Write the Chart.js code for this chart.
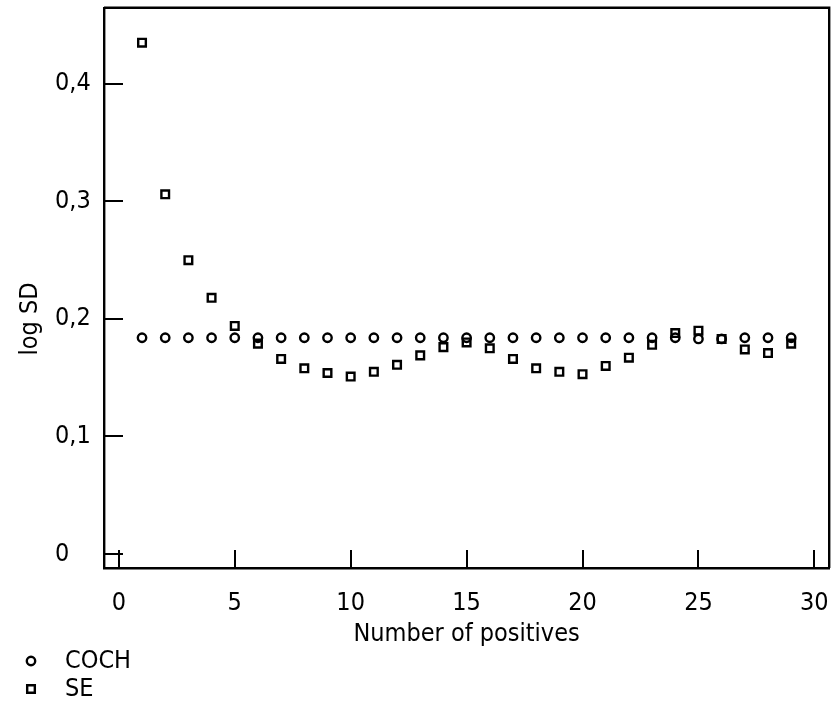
<!DOCTYPE html>
<html>
<head>
<meta charset="utf-8">
<script src="https://cdn.jsdelivr.net/npm/chart.js@4.4.1/dist/chart.umd.min.js"></script>
<style>
  html, body { margin: 0; padding: 0; background: #fff; }
  canvas { display: block; }
</style>
</head>
<body>
<canvas id="myChart" width="837" height="727"></canvas>
<script>
// number of positives
var positives = [1, 2, 3, 4, 5, 6, 7, 8, 9, 10, 11, 12, 13, 14, 15, 16, 17, 18, 19, 20, 21, 22, 23, 24, 25, 26, 27, 28, 29];
// log SD, COCH
var coch = [0.184, 0.184, 0.184, 0.184, 0.184, 0.184, 0.184, 0.184, 0.184, 0.184, 0.184, 0.184, 0.184, 0.184, 0.184,
  0.184, 0.184, 0.184, 0.184, 0.184, 0.184, 0.184, 0.184, 0.184, 0.183, 0.183, 0.184, 0.184, 0.184];
// log SD, SE
var se = [0.435, 0.306, 0.250, 0.218, 0.194, 0.179, 0.166, 0.158, 0.154, 0.151, 0.155, 0.161, 0.169, 0.176, 0.180,
  0.175, 0.166, 0.158, 0.155, 0.153, 0.160, 0.167, 0.178, 0.188, 0.190, 0.183, 0.174, 0.171, 0.179];
var xTicks = [0, 5, 10, 15, 20, 25, 30];
var yTicks = [0, 0.1, 0.2, 0.3, 0.4];

var FONT = "'DejaVu Sans Condensed', 'DejaVu Sans', sans-serif";
var FSIZE = 25;

function points(ys) {
  var out = [];
  for (var i = 0; i < positives.length; i++) {
    out.push({ x: positives[i], y: ys[i] });
  }
  return out;
}

function commaLabel(v) {
  if (Math.abs(v) < 1e-9) return "0";
  return v.toFixed(1).replace(".", ",");
}

// inward ticks, top/right frame, y title and the legend under the chart
const framePlugin = {
  id: "frame",
  afterDraw(chart) {
    const ctx = chart.ctx;
    const a = chart.chartArea;
    const xs = chart.scales.x;
    const ys = chart.scales.y;
    ctx.save();
    ctx.strokeStyle = "#000";
    ctx.lineWidth = 2.4;
    ctx.beginPath();
    ctx.moveTo(a.left, a.top);
    ctx.lineTo(a.right, a.top);
    ctx.lineTo(a.right, a.bottom);
    ctx.stroke();

    ctx.lineWidth = 2;
    ctx.beginPath();
    xTicks.forEach(function (t) {
      var px = Math.round(xs.getPixelForValue(t));
      ctx.moveTo(px, a.bottom);
      ctx.lineTo(px, a.bottom - 18);
    });
    yTicks.forEach(function (t) {
      var py = Math.round(ys.getPixelForValue(t));
      ctx.moveTo(a.left, py);
      ctx.lineTo(a.left + 19, py);
    });
    ctx.stroke();

    ctx.fillStyle = "#000";
    ctx.font = FSIZE + "px " + FONT;
    ctx.textAlign = "center";
    ctx.textBaseline = "middle";
    ctx.save();
    ctx.translate(30, ys.getPixelForValue(0.2));
    ctx.rotate(-Math.PI / 2);
    ctx.fillText("log SD", 0, 0);
    ctx.restore();

    ctx.textAlign = "left";
    var rowY = [661, 689];
    chart.data.datasets.forEach(function (ds, i) {
      ctx.fillStyle = "rgba(0,0,0,0)";
      ctx.strokeStyle = "#000";
      ctx.lineWidth = ds.pointBorderWidth;
      Chart.helpers.drawPoint(ctx, {
        pointStyle: ds.pointStyle,
        radius: ds.pointRadius,
        borderWidth: ds.pointBorderWidth,
        rotation: 0
      }, 31, rowY[i]);
      ctx.fillStyle = "#000";
      ctx.fillText(ds.label, 65, rowY[i]);
    });
    ctx.restore();
  }
};

const data = {
  datasets: [
    {
      label: "COCH",
      data: points(coch),
      showLine: false,
      pointStyle: "circle",
      pointRadius: 4.2,
      pointBorderWidth: 2.4,
      pointBorderColor: "#000",
      pointBackgroundColor: "rgba(0,0,0,0)"
    },
    {
      label: "SE",
      data: points(se),
      showLine: false,
      pointStyle: "rect",
      pointRadius: 5.4,
      pointBorderWidth: 2.4,
      pointBorderColor: "#000",
      pointBackgroundColor: "rgba(0,0,0,0)"
    }
  ]
};

const config = {
  type: "scatter",
  data: data,
  options: {
    responsive: false,
    animation: false,
    devicePixelRatio: 1,
    layout: { padding: { left: 55, top: 7, right: 1, bottom: 74 } },
    plugins: {
      legend: false,
      tooltip: { enabled: false }
    },
    scales: {
      x: {
        type: "linear",
        min: -0.64,
        max: 30.64,
        afterFit: function (scale) {
          scale.height = 85;
          scale.paddingLeft = 0;
          scale.paddingRight = 0;
        },
        grid: { display: false },
        border: { display: true, color: "#000", width: 2.4 },
        ticks: {
          stepSize: 5,
          includeBounds: false,
          padding: 12,
          color: "#000",
          font: { family: FONT, size: FSIZE }
        },
        title: {
          display: true,
          text: "Number of positives",
          color: "#000",
          font: { family: FONT, size: FSIZE },
          padding: { top: 0, bottom: 4 }
        }
      },
      y: {
        type: "linear",
        min: -0.0119,
        max: 0.4647,
        afterFit: function (scale) {
          scale.width = 49;
          scale.paddingTop = 0;
          scale.paddingBottom = 0;
        },
        grid: { display: false },
        border: { display: true, color: "#000", width: 2.4 },
        ticks: {
          stepSize: 0.1,
          includeBounds: false,
          crossAlign: "far",
          color: "#000",
          font: { family: FONT, size: FSIZE },
          callback: commaLabel
        }
      }
    }
  },
  plugins: [framePlugin]
};

const myChart = new Chart(document.getElementById("myChart"), config);
</script>
</body>
</html>
